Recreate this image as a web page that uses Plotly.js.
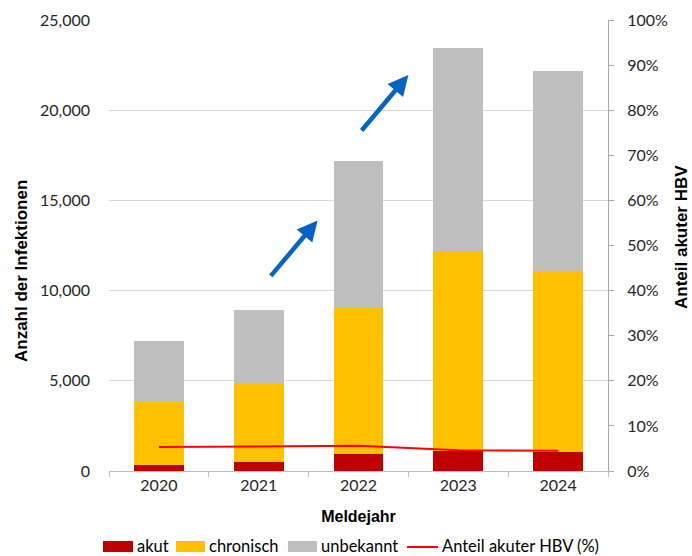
<!DOCTYPE html>
<html>
<head>
<meta charset="utf-8">
<script src="https://cdn.plot.ly/plotly-3.0.1.min.js"></script>
<style>html,body{margin:0;padding:0;background:#fff;}#chart{width:692px;height:556px;}</style>
</head>
<body>
<div id="chart"></div>
<script>
const years = ['2020', '2021', '2022', '2023', '2024'];
const akut = [360, 500, 930, 1100, 1040];
const chronisch = [3460, 4340, 8120, 11080, 10070];
const unbekannt = [3370, 4090, 8120, 11270, 11060];
const anteilAkut = [5.3, 5.5, 5.6, 4.6, 4.5];

const seriesNames = ['akut', 'chronisch', 'unbekannt', 'Anteil akuter HBV (%)'];
const seriesColors = ['#C00000', '#FFC000', '#BFBFBF', '#FF0000'];

const leftTicks = [0, 5000, 10000, 15000, 20000, 25000];
const rightTicks = [0, 10, 20, 30, 40, 50, 60, 70, 80, 90, 100];
const rightTickText = rightTicks.map(v => v + '%');

const W = 692, H = 556;
const M = {l: 109, r: 84, t: 20, b: 85};
const PW = W - M.l - M.r, PH = H - M.t - M.b;
const px = x => (x - M.l) / PW;          // pixel -> paper x
const py = y => (H - M.b - y) / PH;       // pixel -> paper y

const tickFont = {family: 'Lato, "Open Sans", sans-serif', size: 16, color: '#262626'};
const titleFont = {family: '"Liberation Sans", Arial, sans-serif', size: 17, color: '#000', weight: 'bold'};
const legendFont = {family: 'Lato, "Open Sans", sans-serif', size: 16.5, color: '#000'};

const traces = [
  {type: 'bar', name: seriesNames[0], x: years, y: akut, marker: {color: seriesColors[0]}, hoverinfo: 'skip'},
  {type: 'bar', name: seriesNames[1], x: years, y: chronisch, marker: {color: seriesColors[1]}, hoverinfo: 'skip'},
  {type: 'bar', name: seriesNames[2], x: years, y: unbekannt, marker: {color: seriesColors[2]}, hoverinfo: 'skip'},
  {type: 'scatter', mode: 'lines', name: seriesNames[3], x: years, y: anteilAkut, yaxis: 'y2',
   line: {color: seriesColors[3], width: 2}, hoverinfo: 'skip'}
];

const arrowStyle = {showarrow: true, arrowhead: 2, arrowsize: 0.9, arrowwidth: 4.5, arrowcolor: '#0563C1', text: '',
                    xref: 'x', yref: 'y', axref: 'pixel', ayref: 'pixel'};

// custom legend (Excel style: wide swatches)
const legendItems = [
  {swatch: [103, 133], textX: 136, kind: 'box'},
  {swatch: [176, 205], textX: 208, kind: 'box'},
  {swatch: [288, 317], textX: 320, kind: 'box'},
  {swatch: [407, 438], textX: 441, kind: 'line'}
];
const legendY = 546;
const shapes = [], annotations = [];
legendItems.forEach((it, i) => {
  if (it.kind === 'box') {
    shapes.push({type: 'rect', xref: 'paper', yref: 'paper', x0: px(it.swatch[0]), x1: px(it.swatch[1]),
                 y0: py(legendY + 6), y1: py(legendY - 5), fillcolor: seriesColors[i], line: {width: 0}});
  } else {
    shapes.push({type: 'line', xref: 'paper', yref: 'paper', x0: px(it.swatch[0]), x1: px(it.swatch[1]),
                 y0: py(legendY + 1), y1: py(legendY + 1), line: {color: seriesColors[i], width: 2}});
  }
  annotations.push({xref: 'paper', yref: 'paper', x: px(it.textX), y: py(legendY), xanchor: 'left', yanchor: 'middle',
                    text: seriesNames[i], showarrow: false, font: legendFont, borderpad: 0});
});
// axis titles placed as in reference
annotations.push({xref: 'paper', yref: 'paper', x: px(21), y: py(271), textangle: -90, xanchor: 'center', yanchor: 'middle',
                  text: 'Anzahl der Infektionen', showarrow: false, font: titleFont, borderpad: 0});
annotations.push({xref: 'paper', yref: 'paper', x: px(681), y: py(237), textangle: -90, xanchor: 'center', yanchor: 'middle',
                  text: 'Anteil akuter HBV', showarrow: false, font: titleFont, borderpad: 0});
annotations.push(Object.assign({}, arrowStyle, {x: 1.59, y: 13890, ax: -48, ay: 57}));
annotations.push(Object.assign({}, arrowStyle, {x: 2.50, y: 21950, ax: -48, ay: 57}));

const layout = {
  width: W, height: H,
  margin: M,
  paper_bgcolor: '#fff', plot_bgcolor: '#fff',
  barmode: 'stack', bargap: 0.5,
  showlegend: false,
  xaxis: {type: 'category', tickfont: tickFont, showline: true, linecolor: '#BFBFBF', linewidth: 1,
          ticks: 'outside', ticklen: 5, tickcolor: '#BFBFBF', tickson: 'boundaries',
          showgrid: false, zeroline: false, automargin: false,
          title: {text: 'Meldejahr', font: {family: '"Liberation Sans", Arial, sans-serif', size: 16, color: '#000', weight: 'bold'}, standoff: 17}},
  yaxis: {range: [0, 25000], tickvals: leftTicks, tickformat: ',d', tickfont: tickFont,
          showgrid: true, gridcolor: '#D9D9D9', gridwidth: 1, zeroline: false, showline: false,
          ticks: '', ticklabelstandoff: 18, automargin: false},
  yaxis2: {overlaying: 'y', side: 'right', range: [0, 100], tickvals: rightTicks, ticktext: rightTickText,
           tickfont: tickFont, showgrid: false, zeroline: false, showline: true, linecolor: '#A6A6A6',
           ticks: 'outside', ticklen: 5, tickcolor: '#A6A6A6', ticklabelstandoff: 10, automargin: false},
  shapes: shapes,
  annotations: annotations
};

Plotly.newPlot('chart', traces, layout, {displayModeBar: false, staticPlot: true});
</script>
</body>
</html>
